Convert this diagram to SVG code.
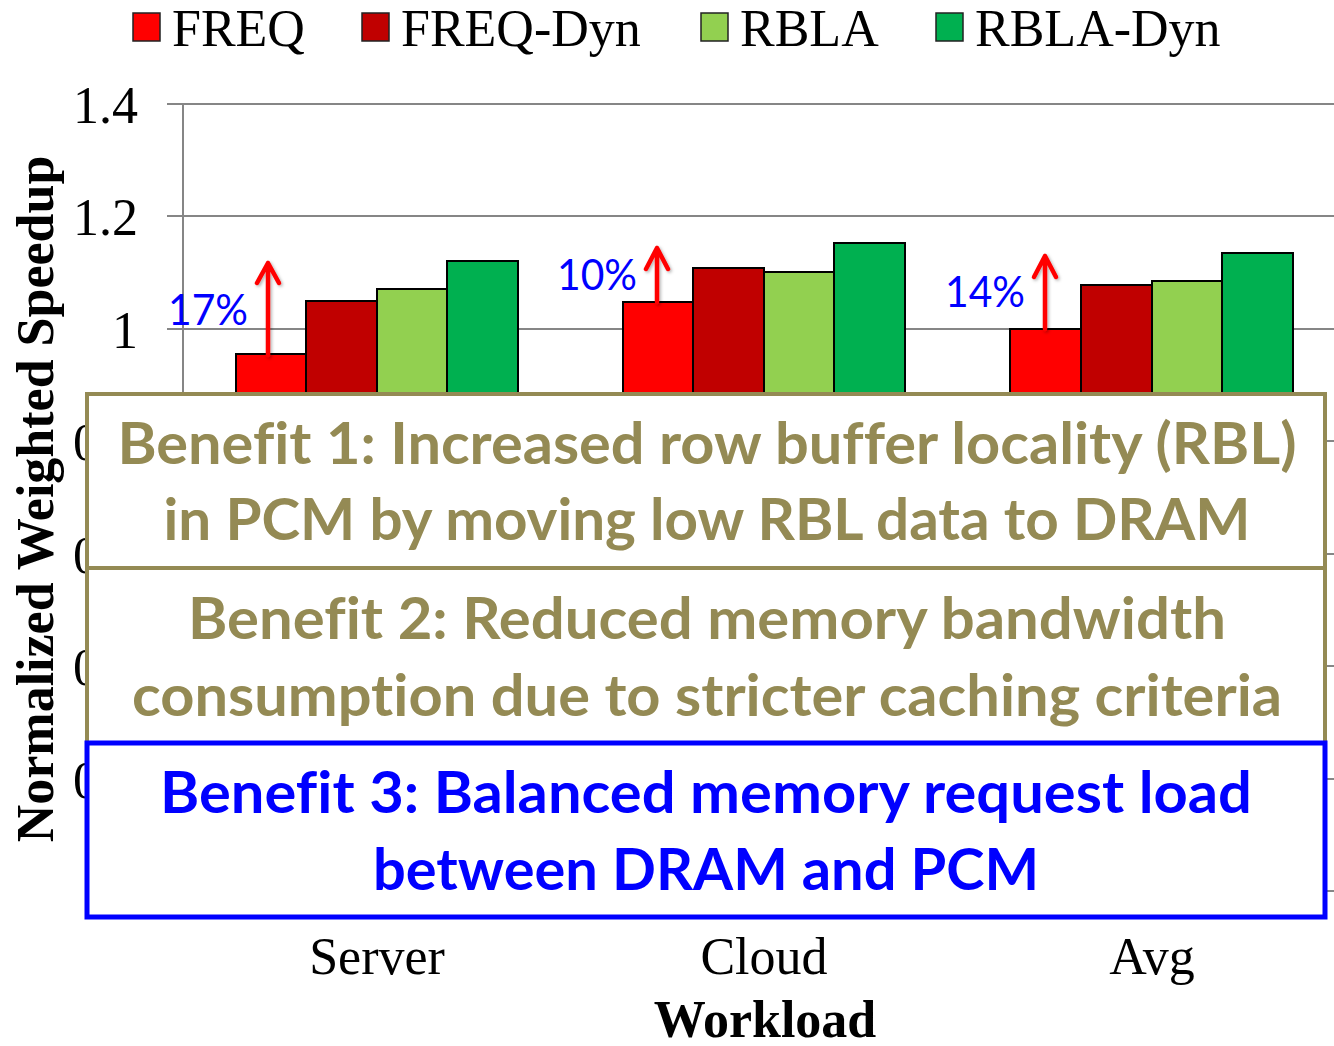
<svg xmlns="http://www.w3.org/2000/svg" width="1334" height="1046" viewBox="0 0 1334 1046">
<style>
.grid{stroke:#868686;stroke-width:2;fill:none}
.tick{font-family:"Liberation Serif","Times New Roman",serif;font-size:52px;fill:#000}
.bar{stroke:#000;stroke-width:2}
.f{fill:#FF0000}.fd{fill:#C00000}.r{fill:#92D050}.rd{fill:#00B050}
.arrow{stroke:#FF0000;stroke-width:4.5;fill:none;stroke-linecap:round;stroke-linejoin:round}
.pct{font-family:Lato,"Open Sans",sans-serif;font-size:42px;fill:#0000FF}
.box{fill:#fff;stroke:#948A54;stroke-width:4}
.box3{fill:#fff;stroke:#0000FF;stroke-width:5}
.bt,.bt3{font-family:Lato,"Open Sans",sans-serif;font-weight:bold;font-size:57px;text-anchor:middle;font-variant-ligatures:none;font-feature-settings:"liga" 0,"clig" 0,"dlig" 0}
.bt{fill:#948A54}
.bt3{fill:#0000FF}
.leg{stroke:#222;stroke-width:1.5}
</style>
<defs>
<filter id="shadow" x="-50%" y="-20%" width="200%" height="140%">
<feDropShadow dx="1.5" dy="1.5" stdDeviation="1.5" flood-color="#000" flood-opacity="0.3"/>
</filter>
</defs>
<rect width="1334" height="1046" fill="#fff"/>
<g id="gridlines">
<line class="grid" x1="167" y1="104" x2="1334" y2="104"/>
<line class="grid" x1="167" y1="216" x2="1334" y2="216"/>
<line class="grid" x1="167" y1="329" x2="1334" y2="329"/>
<line class="grid" x1="167" y1="441" x2="1334" y2="441"/>
<line class="grid" x1="167" y1="554" x2="1334" y2="554"/>
<line class="grid" x1="167" y1="666" x2="1334" y2="666"/>
<line class="grid" x1="167" y1="779" x2="1334" y2="779"/>
<line class="grid" x1="167" y1="891" x2="1334" y2="891"/>
<line class="grid" x1="183" y1="104" x2="183" y2="891"/>
</g>
<g id="yticks" class="tick" text-anchor="end">
<text x="138" y="123">1.4</text>
<text x="138" y="235">1.2</text>
<text x="138" y="348">1</text>
<text x="138" y="460">0.8</text>
<text x="138" y="573">0.6</text>
<text x="138" y="685">0.4</text>
<text x="138" y="798">0.2</text>
</g>
<g id="bars">
<rect class="bar f" x="236" y="354" width="70" height="537"/>
<rect class="bar fd" x="306" y="301" width="71" height="590"/>
<rect class="bar r" x="377" y="289" width="70" height="602"/>
<rect class="bar rd" x="447" y="261" width="71" height="630"/>
<rect class="bar f" x="623" y="302" width="70" height="589"/>
<rect class="bar fd" x="693" y="268" width="71" height="623"/>
<rect class="bar r" x="764" y="272" width="70" height="619"/>
<rect class="bar rd" x="834" y="243" width="71" height="648"/>
<rect class="bar f" x="1010" y="329" width="71" height="562"/>
<rect class="bar fd" x="1081" y="285" width="71" height="606"/>
<rect class="bar r" x="1152" y="281" width="70" height="610"/>
<rect class="bar rd" x="1222" y="253" width="71" height="638"/>
</g>
<g id="connectors" filter="url(#shadow)">
<path class="arrow" d="M268 355 V263 M257 283 L268 263 L279 283"/>
<path class="arrow" d="M657 302 V248 M646 269 L657 248 L668 269"/>
<path class="arrow" d="M1045 329 V256 M1034 277 L1045 256 L1056 277"/>
</g>
<g id="pct-labels" class="pct">
<text x="168" y="325" textLength="80" lengthAdjust="spacingAndGlyphs">17%</text>
<text x="557" y="290" textLength="80" lengthAdjust="spacingAndGlyphs">10%</text>
<text x="945" y="307" textLength="80" lengthAdjust="spacingAndGlyphs">14%</text>
</g>
<g id="benefit1">
<rect class="box" x="87" y="394" width="1238" height="174"/>
<text class="bt" x="707" y="464" textLength="1179" lengthAdjust="spacingAndGlyphs">Benefit 1: Increased row buffer locality (RBL)</text>
<text class="bt" x="707" y="540" textLength="1087" lengthAdjust="spacingAndGlyphs">in PCM by moving low RBL data to DRAM</text>
</g>
<g id="benefit2">
<rect class="box" x="87" y="568" width="1238" height="175"/>
<text class="bt" x="707" y="639" textLength="1038" lengthAdjust="spacingAndGlyphs">Benefit 2: Reduced memory bandwidth</text>
<text class="bt" x="707" y="716" textLength="1150" lengthAdjust="spacingAndGlyphs">consumption due to stricter caching criteria</text>
</g>
<g id="benefit3">
<rect class="box3" x="87" y="743" width="1238" height="174"/>
<text class="bt3" x="706" y="813" textLength="1092" lengthAdjust="spacingAndGlyphs">Benefit 3: Balanced memory request load</text>
<text class="bt3" x="706" y="890" textLength="666" lengthAdjust="spacingAndGlyphs">between DRAM and PCM</text>
</g>
<g id="xlabels" class="tick" text-anchor="middle">
<text x="377" y="974">Server</text>
<text x="764" y="974">Cloud</text>
<text x="1152" y="974">Avg</text>
<text x="765" y="1037" font-weight="bold">Workload</text>
</g>
<g id="ytitle">
<text class="tick" font-weight="bold" text-anchor="middle" transform="translate(53,499) rotate(-90)">Normalized Weighted Speedup</text>
</g>
<g id="legend" class="tick">
<rect class="leg f" x="133" y="13" width="27" height="28"/>
<text x="172" y="46">FREQ</text>
<rect class="leg fd" x="362" y="13" width="27" height="28"/>
<text x="401" y="46">FREQ-Dyn</text>
<rect class="leg r" x="701" y="13" width="27" height="28"/>
<text x="740" y="46">RBLA</text>
<rect class="leg rd" x="936" y="13" width="27" height="28"/>
<text x="975" y="46">RBLA-Dyn</text>
</g>
</svg>
